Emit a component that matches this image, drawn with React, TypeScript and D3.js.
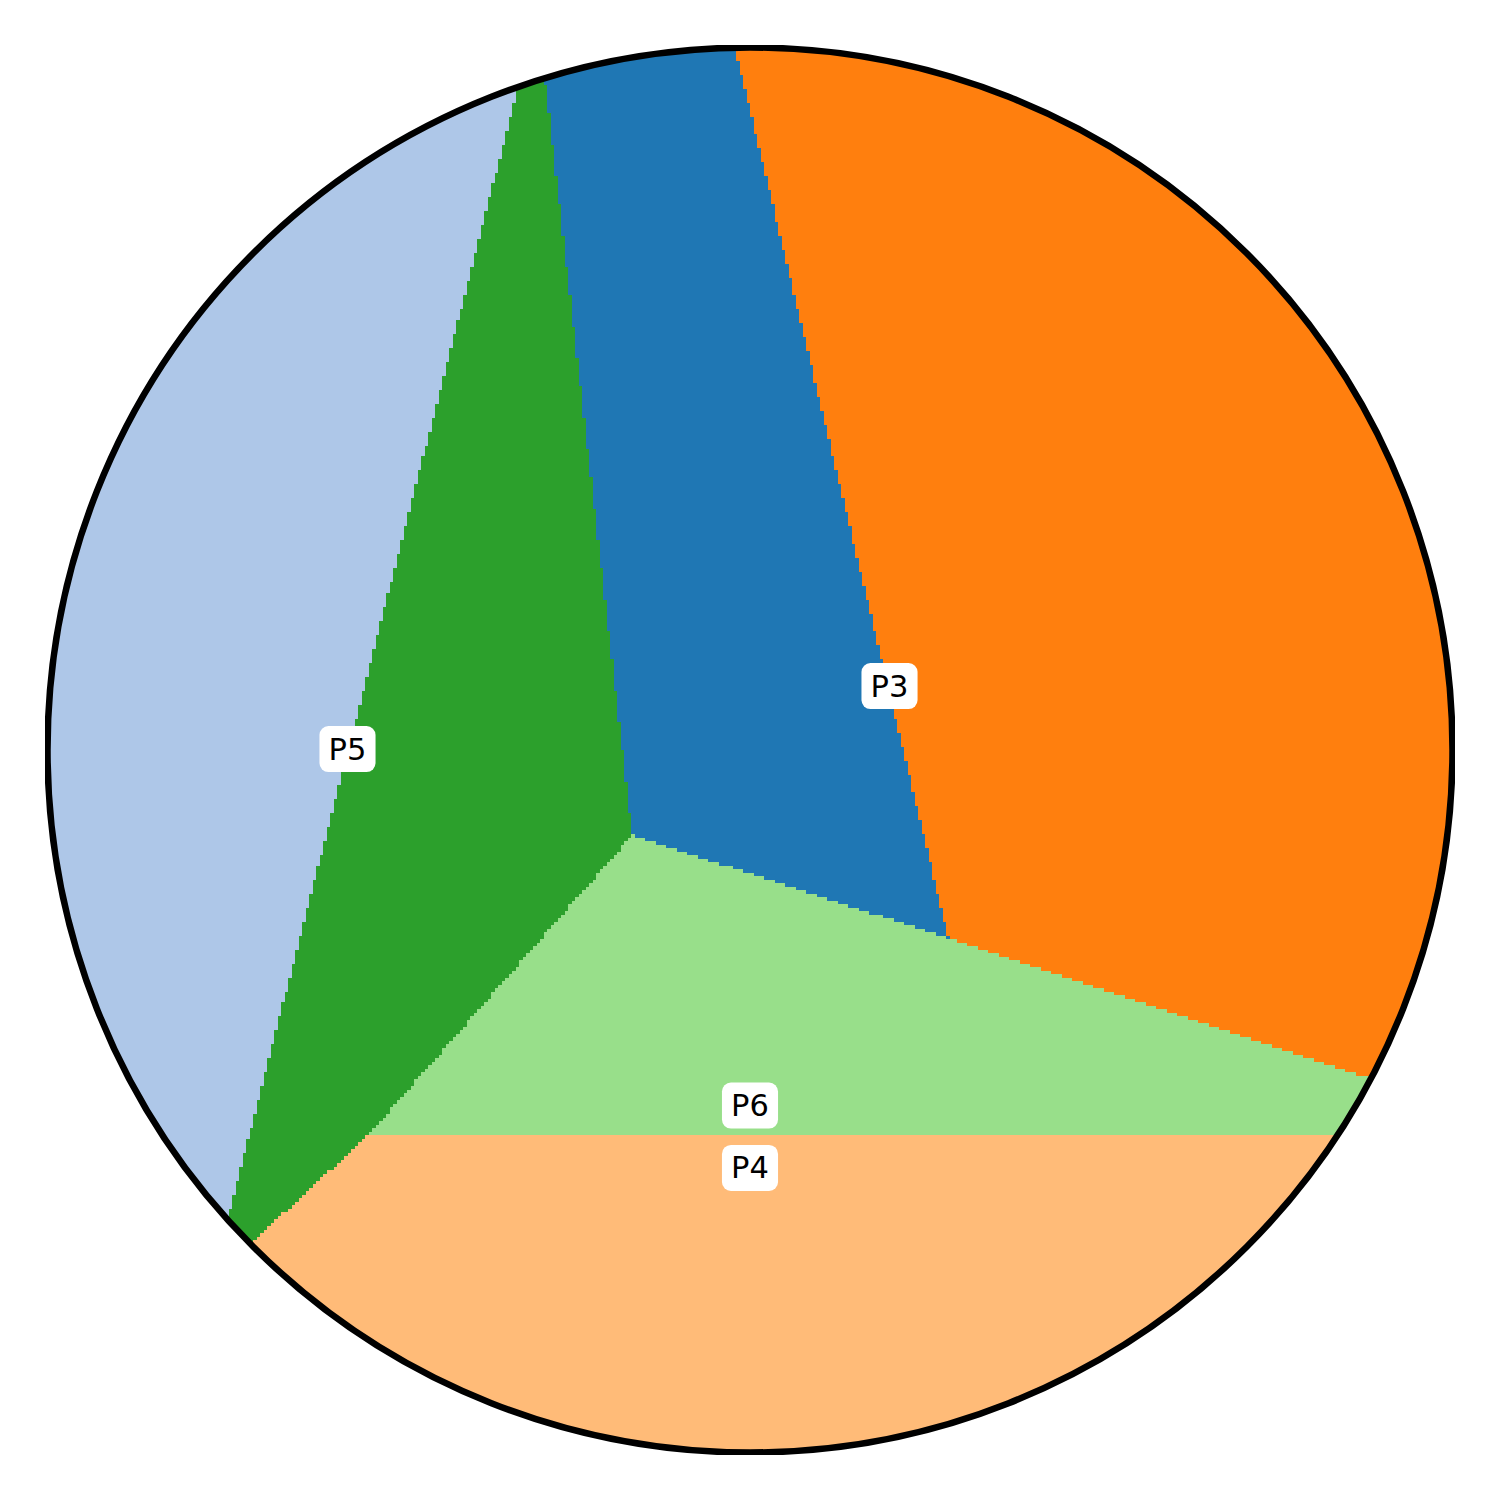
import React, { useMemo } from 'react';
import * as d3 from 'd3';

// Region definitions (data coordinates, unit circle, v axis up)
const REGION_NAMES = ['P1', 'P2', 'P3', 'P4', 'P5', 'P6'];
const REGION_COLORS = ['#1f77b4', '#aec7e8', '#ff7f0e', '#ffbb78', '#2ca02c', '#98df8a'];

const P1_POLY: [number, number][] = [[-0.3559, 1.5], [-0.1404, 1.5], [0.2829, -0.2686], [-0.1686, -0.1214]];
const P2_POLY: [number, number][] = [[-0.1901, 1.5], [-1.5, 1.5], [-1.5, -1.5], [-0.9593, -1.5]];
const P3_POLY: [number, number][] = [[-0.1404, 1.5], [1.5, 1.5], [1.5, -0.6723], [0.2829, -0.2686]];
const P4_POLY: [number, number][] = [[-0.5457, -0.55], [1.5, -0.55], [1.5, -1.5], [-1.5752, -1.5]];
const P5_POLY: [number, number][] = [[-0.3044, 1.054], [-0.1686, -0.1214], [-0.5457, -0.55], [-0.7684, -0.7555]];
const P6_POLY: [number, number][] = [[-0.1686, -0.1214], [0.2829, -0.2686], [1.1313, -0.55], [-0.5457, -0.55]];
const REGION_POLYS = [P1_POLY, P2_POLY, P3_POLY, P4_POLY, P5_POLY, P6_POLY];

// Labels
const LABEL_NAMES = ['P3', 'P5', 'P6', 'P4'];
const LABEL_U = [0.1993, -0.575, 0.0, 0.0];
const LABEL_V = [0.0914, 0.0014, -0.5079, -0.5971];

const GRID = 400;

export default function App() {
  const x = d3.scaleLinear().domain([-1, 1]).range([50, 1450]);
  const y = d3.scaleLinear().domain([-1, 1]).range([1450, 50]);

  const paths = useMemo(() => {
    const ds: string[][] = REGION_POLYS.map(() => []);
    const step = 2 / GRID;
    const lim = (1 + step) * (1 + step);
    for (let j = 0; j < GRID; j++) {
      const v1 = 1 - j * step;
      const v0 = v1 - step;
      const vc = (v0 + v1) / 2;
      let cur = -1;
      let start = 0;
      for (let i = 0; i <= GRID; i++) {
        let r = -1;
        if (i < GRID) {
          const uc = -1 + (i + 0.5) * step;
          if (uc * uc + vc * vc <= lim) {
            r = REGION_POLYS.findIndex((p) => d3.polygonContains(p, [uc, vc]));
            if (r < 0) r = cur >= 0 ? cur : 1;
          }
        }
        if (r !== cur) {
          if (cur >= 0) {
            const px0 = x(-1 + start * step);
            const px1 = x(-1 + i * step);
            const py0 = y(v1);
            const py1 = y(v0);
            ds[cur].push(`M${px0.toFixed(2)},${py0.toFixed(2)}H${px1.toFixed(2)}V${py1.toFixed(2)}H${px0.toFixed(2)}Z`);
          }
          cur = r;
          start = i;
        }
      }
    }
    return ds.map((a) => a.join(''));
  }, []);

  const fontSize = 30.5;
  const boxW = 1.239 * fontSize + 0.6 * fontSize;
  const boxH = 46;
  const R = x(1) - x(0);

  return (
    <svg
      width={1500}
      height={1500}
      style={{ position: 'absolute', left: 0, top: 0, background: '#ffffff' }}
      xmlns="http://www.w3.org/2000/svg"
    >
      <defs>
        <clipPath id="circ">
          <circle cx={x(0)} cy={y(0)} r={R + 2.5} />
        </clipPath>
        <clipPath id="axesClip">
          <rect x={45} y={45} width={1410} height={1410} />
        </clipPath>
      </defs>
      <rect x={0} y={0} width={1500} height={1500} fill="#ffffff" />
      <g clipPath="url(#axesClip)">
        <g clipPath="url(#circ)">
          {paths.map((d, k) => (
            <path key={REGION_NAMES[k]} d={d} fill={REGION_COLORS[k]} shapeRendering="crispEdges" />
          ))}
        </g>
        <circle cx={x(0)} cy={y(0)} r={R + 2.5} fill="none" stroke="#000000" strokeWidth={6.5} />
      </g>
      {LABEL_NAMES.map((name, k) => {
        const cx = x(LABEL_U[k]);
        const cy = y(LABEL_V[k]);
        return (
          <g key={name}>
            <rect x={cx - boxW / 2} y={cy - boxH / 2} width={boxW} height={boxH} rx={9} ry={9} fill="#ffffff" />
            <text
              x={cx}
              y={cy + 10.5}
              textAnchor="middle"
              fontFamily="DejaVu Sans"
              fontSize={fontSize}
              fill="#000000"
            >
              {name}
            </text>
          </g>
        );
      })}
    </svg>
  );
}
